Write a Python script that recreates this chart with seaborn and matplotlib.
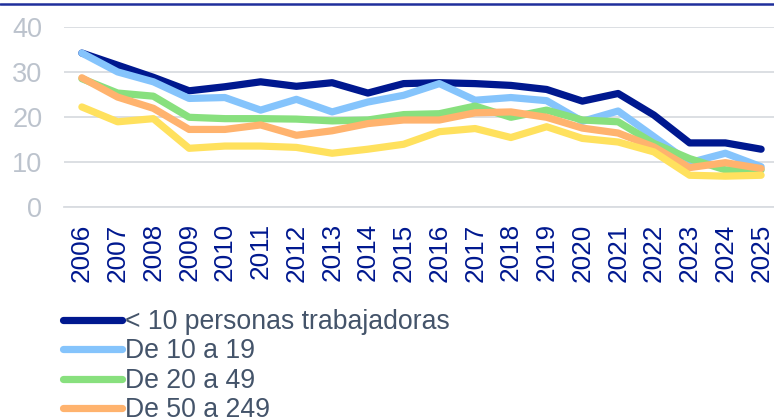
import matplotlib
matplotlib.use("Agg")
import matplotlib.pyplot as plt
import seaborn as sns
import pandas as pd
from matplotlib.lines import Line2D

years = [str(y) for y in range(2006, 2026)]
series_names = ["< 10 personas trabajadoras", "De 10 a 19", "De 20 a 49",
                "De 50 a 249", "250 y más"]
s_lt10 = [34.2, 31.5, 28.8, 25.8, 26.7, 27.8, 26.8, 27.6, 25.3, 27.4,
          27.6, 27.4, 27.0, 26.1, 23.5, 25.2, 20.4, 14.2, 14.2, 12.8]
s_10_19 = [34.2, 30.0, 27.8, 24.1, 24.3, 21.5, 23.9, 21.1, 23.3, 24.8,
           27.4, 23.7, 24.3, 23.6, 19.0, 21.3, 15.6, 9.8, 11.9, 8.9]
s_20_49 = [28.5, 25.3, 24.6, 19.9, 19.6, 19.6, 19.5, 19.1, 19.3, 20.5,
           20.7, 22.4, 19.9, 21.5, 19.3, 18.9, 14.1, 10.7, 8.2, 8.2]
s_50_249 = [28.7, 24.4, 21.9, 17.2, 17.2, 18.2, 15.9, 16.9, 18.5, 19.3,
            19.3, 20.9, 21.1, 19.9, 17.5, 16.4, 13.3, 8.7, 9.8, 8.5]
s_250 = [22.2, 18.9, 19.6, 13.0, 13.5, 13.5, 13.2, 11.9, 12.8, 13.9,
         16.7, 17.4, 15.4, 17.8, 15.2, 14.4, 12.2, 7.0, 6.8, 7.0]
y_ticks = [0, 10, 20, 30, 40]

colors = ["#00188F", "#85C4FC", "#88E07E", "#FFB36E", "#FFE15E"]

sns.set_theme(style="white")
plt.rcParams["font.family"] = ["Liberation Sans", "DejaVu Sans"]

rows = []
for name, vals in zip(series_names, [s_lt10, s_10_19, s_20_49, s_50_249, s_250]):
    for i, v in enumerate(vals):
        rows.append({"idx": i, "year": years[i], "value": v, "series": name})
df = pd.DataFrame(rows)

fig = plt.figure(figsize=(7.74, 4.19), dpi=100)
ax = fig.add_axes([64 / 774, 1 - 206.7 / 419, 715 / 774, 179.7 / 419])

sns.lineplot(data=df, x="idx", y="value", hue="series", hue_order=series_names,
             palette=colors, linewidth=5.2, ax=ax, legend=True, sort=False)
for ln in ax.get_lines():
    ln.set_solid_capstyle("round")
    ln.set_solid_joinstyle("round")

ax.set_xlim(-0.5, len(years) - 0.5)
ax.set_ylim(0, 40)
ax.set_yticks(y_ticks)
ax.set_yticklabels([str(t) for t in y_ticks], color="#BCC3CD", fontsize=19.5)
ax.yaxis.grid(True, color="#D9DCE1", linewidth=1.3)
ax.set_axisbelow(True)
ax.set_xticks(range(len(years)))
ax.set_xticklabels(years, rotation=90, color="#00188F", fontsize=18.8)
ax.set_xticks([i - 0.5 for i in range(len(years) + 1)], minor=True)
ax.tick_params(axis="x", which="major", length=0, pad=12)
ax.tick_params(axis="x", which="minor", length=7, color="#D9DCE1", width=1.3)
ax.tick_params(axis="y", length=0, pad=15.5)
ax.set_xlabel("")
ax.set_ylabel("")
for sp in ["top", "right", "left"]:
    ax.spines[sp].set_visible(False)
ax.spines["bottom"].set_color("#D9DCE1")
ax.spines["bottom"].set_linewidth(1.3)

handles, labels = ax.get_legend_handles_labels()
for h in handles:
    h.set_linewidth(5.2)
    h.set_solid_capstyle("round")
ax.legend(handles, labels, loc="upper left", bbox_to_anchor=(63 / 774, 1 - 309 / 419),
          bbox_transform=fig.transFigure, frameon=False, fontsize=19.2,
          labelcolor="#44546A", handlelength=2.2, handletextpad=0.12,
          labelspacing=0.13, borderaxespad=0, borderpad=0)

fig.add_artist(Line2D([0, 1], [1 - 4.5 / 419, 1 - 4.5 / 419], color="#1F2F9C",
                      linewidth=1.8, transform=fig.transFigure))

fig.savefig("out.png", dpi=100)
